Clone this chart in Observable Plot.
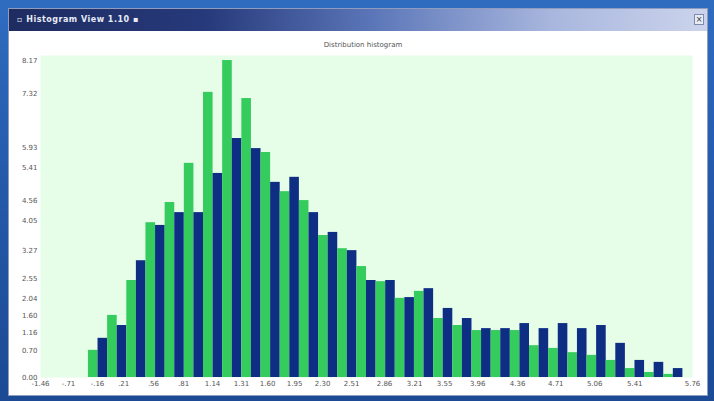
<!DOCTYPE html>
<html>
<head>
<meta charset="utf-8">
<script src="https://cdn.jsdelivr.net/npm/d3@7"></script>
<script src="https://cdn.jsdelivr.net/npm/@observablehq/plot@0.6"></script>
<style>
  html, body { margin: 0; padding: 0; }
  body {
    width: 714px; height: 401px; overflow: hidden; position: relative;
    background: linear-gradient(180deg, #2f6cc0 0%, #2458a8 50%, #1c4a94 100%);
    font-family: "DejaVu Sans", sans-serif;
  }
  #win {
    position: absolute; left: 8px; top: 8px; width: 700px; height: 388px;
    background: #ffffff; border: 1px solid #8e9cc0; box-sizing: border-box;
  }
  #titlebar {
    position: absolute; left: 0; top: 0; width: 100%; height: 22px;
    background: linear-gradient(90deg, #1e2c60 0%, #26397a 28%, #5b76b8 52%, #a9b7de 78%, #ccd4ec 100%);
    color: #e8ecf8; font: bold 8px "DejaVu Sans", sans-serif; line-height: 22px;
    padding-left: 8px; box-sizing: border-box; letter-spacing: 0.5px;
  }
  #closebox {
    position: absolute; right: 3px; top: 5px; width: 10px; height: 11px;
    background: #e8ecf6; border: 1px solid #7d8bb0; box-sizing: border-box;
    font: 8px "DejaVu Sans", sans-serif; color: #333; line-height: 9px; text-align: center;
  }
  #ctitle {
    position: absolute; left: 354px; top: 32px; transform: translateX(-50%);
    font: 7px "DejaVu Sans", sans-serif; color: #555; white-space: nowrap;
  }
  #chart { position: absolute; left: 0; top: 22px; }
</style>
</head>
<body>
<div id="win">
  <div id="titlebar">▫ Histogram View 1.10 ▪</div>
  <div id="closebox">×</div>
  <div id="ctitle">Distribution histogram</div>
  <div id="chart"></div>
</div>
<script>
// bin left edges (axis units)
const binStarts = [2.5,3.5,4.5,5.5,6.5,7.5,8.5,9.5,10.5,11.5,12.5,13.5,14.5,15.5,16.5,17.5,18.5,19.5,20.5,21.5,22.5,23.5,24.5,25.5,26.5,27.5,28.5,29.5,30.5,31.5,32.5];
const seriesA = [0.70,1.60,2.50,3.99,4.51,5.52,7.35,8.17,7.19,5.80,4.79,4.56,3.66,3.32,2.86,2.47,2.04,2.22,1.52,1.34,1.21,1.21,1.21,0.82,0.75,0.64,0.57,0.44,0.23,0.13,0.08];
const seriesB = [1.01,1.34,3.01,3.92,4.25,4.25,5.26,6.16,5.90,5.03,5.16,4.25,3.74,3.27,2.50,2.50,2.06,2.29,1.78,1.52,1.26,1.26,1.39,1.26,1.39,1.26,1.34,0.88,0.44,0.39,0.23];
const xTickValues = [0,1.46,2.97,4.33,5.89,7.46,8.97,10.48,11.84,13.25,14.71,16.22,17.94,19.51,21.07,22.8,24.88,26.87,28.9,30.99,34];
const xTickLabels = ["-1.46","-.71","-.16",".21",".56",".81","1.14","1.31","1.60","1.95","2.30","2.51","2.86","3.21","3.55","3.96","4.36","4.71","5.06","5.41","5.76"];
const yTickValues = [0,0.70,1.16,1.60,2.04,2.55,3.27,4.05,4.56,5.41,5.93,7.32,8.17];
const yTickLabels = ["0.00","0.70","1.16","1.60","2.04","2.55","3.27","4.05","4.56","5.41","5.93","7.32","8.17"];

const rows = [];
binStarts.forEach((s, i) => {
  rows.push({x1: s, x2: s + 0.5, y: seriesA[i], series: "A"});
  rows.push({x1: s + 0.5, x2: s + 1, y: seriesB[i], series: "B"});
});
const xLab = new Map(xTickValues.map((v, i) => [v, xTickLabels[i]]));
const yLab = new Map(yTickValues.map((v, i) => [v, yTickLabels[i]]));

const chart = Plot.plot({
  width: 698, height: 362,
  marginLeft: 31, marginRight: 15, marginTop: 24, marginBottom: 16,
  style: {background: "transparent", fontSize: "7px", fontFamily: "DejaVu Sans", color: "#555", overflow: "visible"},
  x: {domain: [0, 34], ticks: xTickValues, tickFormat: d => xLab.get(d), tickSize: 0, tickPadding: 4, label: null},
  y: {domain: [0, 8.3], ticks: yTickValues, tickFormat: d => yLab.get(d), tickSize: 0, tickPadding: 3, label: null},
  color: {domain: ["A", "B"], range: ["#34cc5c", "#0e2e84"]},
  marks: [
    Plot.frame({fill: "#e6fde8", stroke: null}),
    Plot.rectY(rows, {x1: "x1", x2: "x2", y: "y", fill: "series"})
  ]
});
document.getElementById("chart").appendChild(chart);
</script>
</body>
</html>
